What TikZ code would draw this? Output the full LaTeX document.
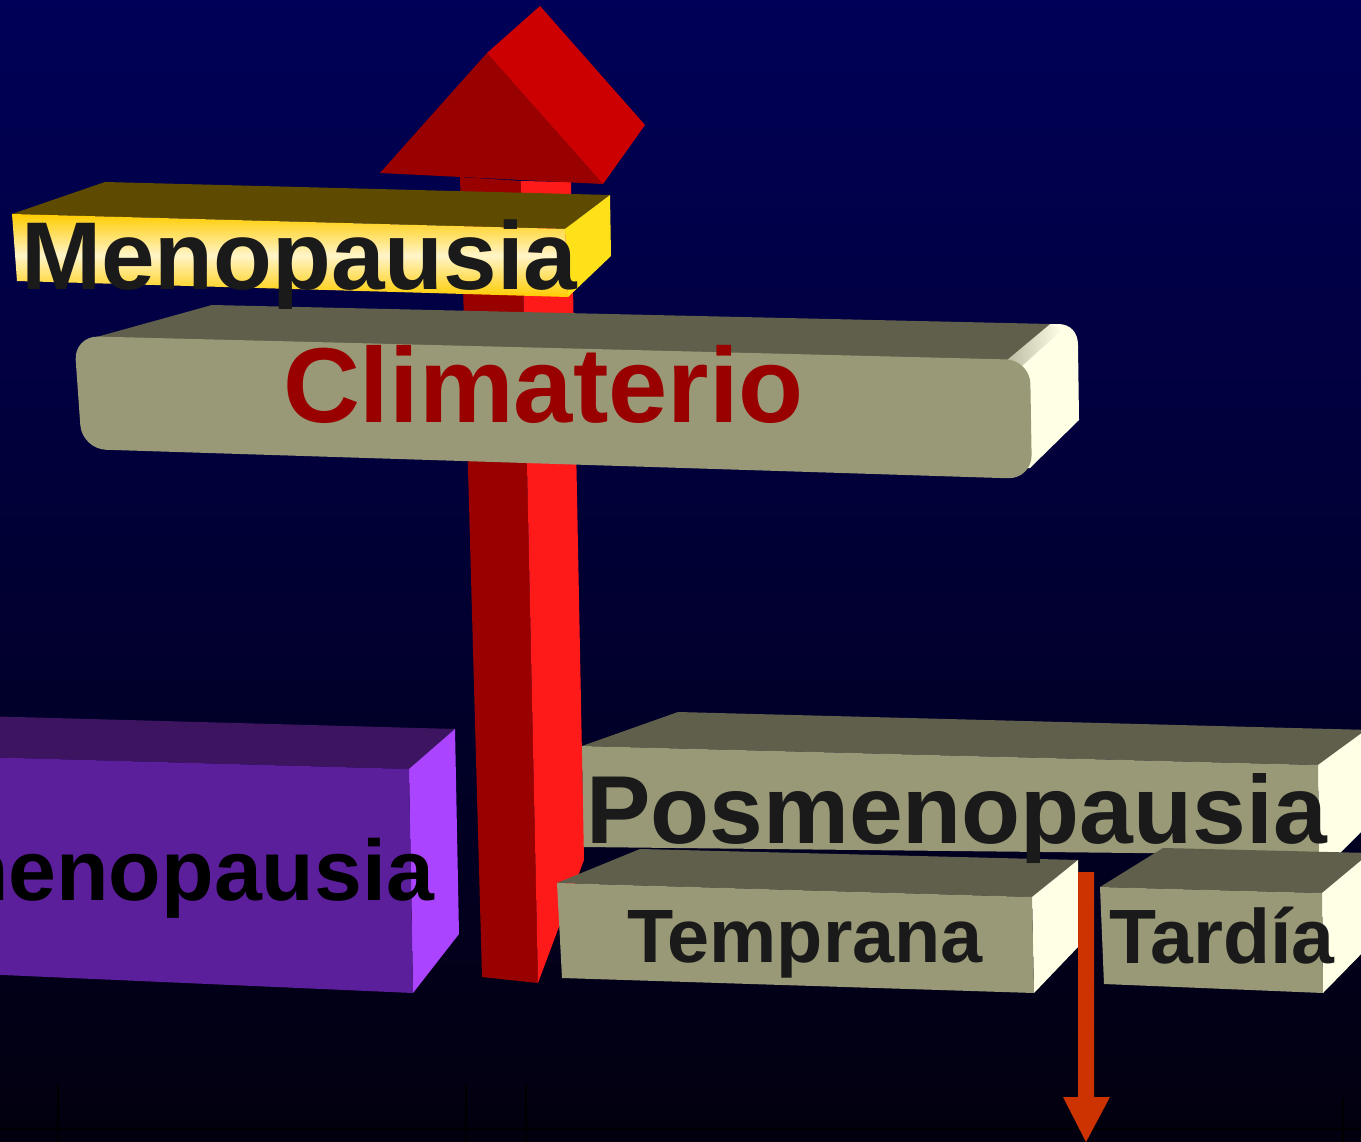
\documentclass[tikz,border=0pt]{standalone}
\usepackage{fontspec}
\setmainfont{Liberation Sans}
\definecolor{bgtop}{RGB}{0,0,88}
\definecolor{bgbot}{RGB}{2,0,14}
\definecolor{txtdark}{HTML}{1A1A1A}
\definecolor{redtxt}{HTML}{990000}
\definecolor{reddark}{HTML}{990000}
\definecolor{redbright}{HTML}{FF1A1A}
\definecolor{redhead}{HTML}{CC0000}
\definecolor{olivefront}{HTML}{999977}
\definecolor{olivetop}{HTML}{5F5F4B}
\definecolor{olivecream}{HTML}{FFFFE6}
\definecolor{purplefront}{HTML}{5B1F9B}
\definecolor{purpletop}{HTML}{3C145F}
\definecolor{purpleright}{HTML}{AA44FF}
\definecolor{goldtop}{HTML}{5E4B00}
\definecolor{goldright}{HTML}{FFE119}
\definecolor{goldedge}{HTML}{FFCC00}
\definecolor{goldlight}{HTML}{FFF4C8}
\definecolor{downarrow}{HTML}{CC3300}
\begin{document}
\begin{tikzpicture}[x=1pt,y=-1pt,
  lbl/.style={inner sep=0pt, outer sep=0pt},
  menofont/.style={font=\bfseries\fontsize{96.3}{96}\selectfont},
  posfont/.style={font=\bfseries\fontsize{96.6}{96}\selectfont},
  climfont/.style={font=\bfseries\fontsize{106.5}{106}\selectfont},
  prefont/.style={font=\bfseries\fontsize{86}{86}\selectfont},
  tempfont/.style={font=\bfseries\fontsize{75.6}{75}\selectfont},
  tardfont/.style={font=\bfseries\fontsize{77}{77}\selectfont},
  tick/.style={draw=black, line width=1.5pt}]
\useasboundingbox (0,0) rectangle (1361,1142);
\clip (0,0) rectangle (1361,1142);
\shade[top color=bgtop, bottom color=bgbot] (0,0) rectangle (1361,1142);

% faint baseline and ticks
\draw[tick] (0,1129) -- (1361,1129);
\draw[tick] (58,1083) -- (58,1142);
\draw[tick] (466,1083) -- (466,1142);
\draw[tick] (526,1083) -- (526,1142);
\draw[tick] (1343,1098) -- (1343,1142);

% purple box (Premenopausia)
\fill[purpletop] (-20,716) -- (455,729) -- (409,769) -- (-20,757) -- cycle;
\fill[purpleright] (409,769) -- (455,729) -- (459,934) -- (413,993) -- cycle;
\fill[purplefront] (-20,757) -- (409,769) -- (413,993) -- (-20,974) -- cycle;
\node[lbl, prefont, text=black, anchor=base east] (pre) at (434,900) {Premenopausia};

% Posmenopausia box
\fill[olivetop] (582,746) -- (678,712) -- (1370,730) -- (1318,765) -- cycle;
\fill[olivecream] (1318,765) -- (1370,727) -- (1370,823) -- (1319,874) -- cycle;
\fill[olivefront] (582,746) -- (1318,765) -- (1319,855) -- (583,847) -- cycle;

% red up arrow
\fill[reddark] (460,177) -- (521,181) -- (538,983) -- (482,977) -- cycle;
\fill[redbright] (521,181) -- (571,182) -- (584,860) -- (538,983) -- cycle;
\fill[reddark] (380,173) -- (487,53) -- (603,184) -- cycle;
\fill[redhead] (487,53) -- (540,6) -- (645,125) -- (603,184) -- cycle;

% Climaterio box
\fill[olivecream] (995,362) -- (1050,324) -- (1058,324)
   .. controls (1070,324) and (1078,332) .. (1078,345)
   -- (1079,420) -- (1030,468) -- (995,468) -- cycle;
\shade[left color=olivetop!60!olivecream, right color=olivecream, opacity=0.7]
   (1007,360) -- (1050,324) -- (1062,330) -- (1022,366) -- cycle;
\fill[olivetop] (93,338) -- (212,305) -- (1050,324) -- (1007,360) -- cycle;
\fill[olivefront, rounded corners=24pt] (74,336) -- (1030,360) -- (1032,479) -- (82,449) -- cycle;
\node[lbl, climfont, text=redtxt, anchor=base west] (clim) at (283,422) {Climaterio};

% Menopausia box
\fill[goldtop] (12,214) -- (105,182) -- (610,195) -- (565,229) -- cycle;
\fill[goldright] (565,229) -- (610,195) -- (611,256) -- (568,297) -- cycle;
\shade[top color=goldedge, bottom color=goldedge, middle color=goldlight] (12,214) -- (565,229) -- (568,297) -- (17,281) -- cycle;
\node[lbl, menofont, text=txtdark, anchor=base west] (meno) at (21,290) {Menopausia};

% Temprana box
\fill[olivetop] (557,883) -- (640,849) -- (1078,860) -- (1032,897) -- cycle;
\fill[olivecream] (1032,897) -- (1078,860) -- (1078,947) -- (1034,993) -- cycle;
\fill[olivefront] (557,883) -- (1032,897) -- (1034,993) -- (562,978) -- cycle;

% Tardia box
\fill[olivetop] (1100,887) -- (1163,848) -- (1370,853) -- (1322,893) -- cycle;
\fill[olivecream] (1322,893) -- (1370,853) -- (1370,945) -- (1323,993) -- cycle;
\fill[olivefront] (1100,887) -- (1322,893) -- (1323,993) -- (1104,984) -- cycle;

% texts on the olive boxes
\node[lbl, posfont, text=txtdark, anchor=base west] (pos) at (586,843) {Posmenopausia};
\node[lbl, tempfont, text=txtdark, anchor=base west] (temp) at (627,962) {Temprana};
\node[lbl, tardfont, text=txtdark, anchor=base west] (tard) at (1109,963) {Tardía};

% orange down arrow
\fill[downarrow] (1078,872) -- (1094,872) -- (1094,1097) -- (1110,1097) -- (1086,1142) -- (1063,1097) -- (1078,1097) -- cycle;
\end{tikzpicture}
\end{document}
